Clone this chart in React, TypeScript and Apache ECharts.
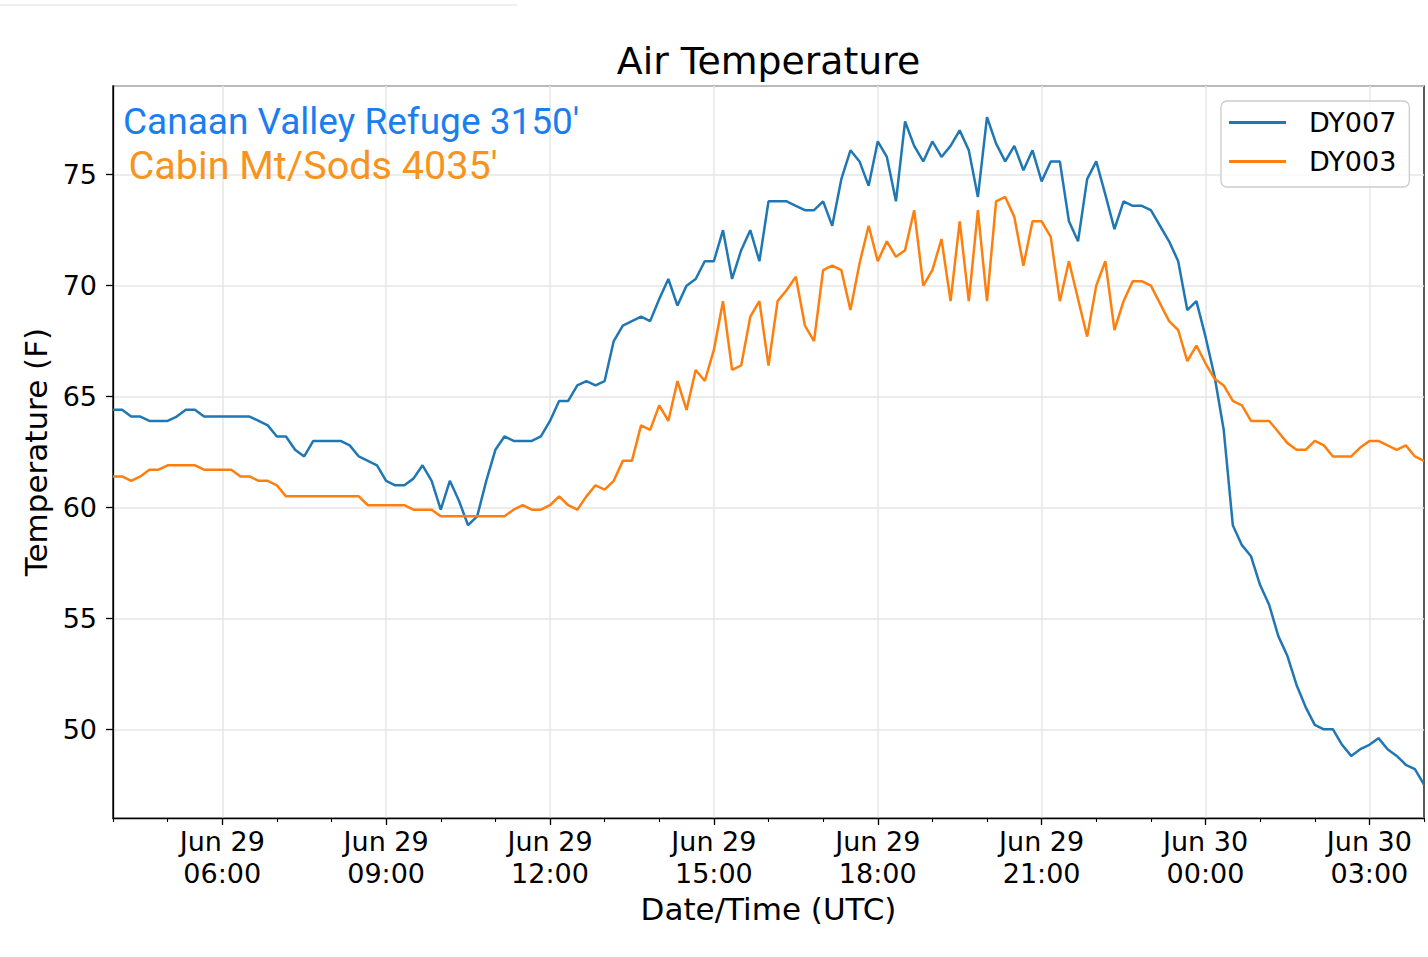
import React, { useEffect, useRef } from "react";
import * as echarts from "echarts";

// Jun 29 04:00 UTC, 10-minute readings
const startHour = 4;
const stepMinutes = 10;

const dy007: number[] = [
  64.4, 64.4, 64.1, 64.1, 63.9, 63.9, 63.9, 64.1, 64.4, 64.4,
  64.1, 64.1, 64.1, 64.1, 64.1, 64.1, 63.9, 63.7, 63.2, 63.2,
  62.6, 62.3, 63.0, 63.0, 63.0, 63.0, 62.8, 62.3, 62.1, 61.9,
  61.2, 61.0, 61.0, 61.3, 61.9, 61.2, 59.9, 61.2, 60.3, 59.2,
  59.6, 61.2, 62.6, 63.2, 63.0, 63.0, 63.0, 63.2, 63.9, 64.8,
  64.8, 65.5, 65.7, 65.5, 65.7, 67.5, 68.2, 68.4, 68.6, 68.4,
  69.4, 70.3, 69.1, 70.0, 70.3, 71.1, 71.1, 72.5, 70.3, 71.6,
  72.5, 71.1, 73.8, 73.8, 73.8, 73.6, 73.4, 73.4, 73.8, 72.7,
  74.8, 76.1, 75.6, 74.5, 76.5, 75.8, 73.8, 77.4, 76.3, 75.6,
  76.5, 75.8, 76.3, 77.0, 76.1, 74.0, 77.6, 76.4, 75.6, 76.3,
  75.2, 76.1, 74.7, 75.6, 75.6, 72.9, 72.0, 74.8, 75.6, 74.1,
  72.55, 73.8, 73.6, 73.6, 73.4, 72.7, 72.0, 71.1, 68.9, 69.3,
  67.7, 65.9, 63.5, 59.2, 58.3, 57.8, 56.5, 55.6, 54.2, 53.3,
  52.0, 51.0, 50.2, 50.0, 50.0, 49.3, 48.8, 49.1, 49.3, 49.6,
  49.1, 48.8, 48.4, 48.2, 47.5,
];

const dy003: number[] = [
  61.4, 61.4, 61.2, 61.4, 61.7, 61.7, 61.9, 61.9, 61.9, 61.9,
  61.7, 61.7, 61.7, 61.7, 61.4, 61.4, 61.2, 61.2, 61.0, 60.5,
  60.5, 60.5, 60.5, 60.5, 60.5, 60.5, 60.5, 60.5, 60.1, 60.1,
  60.1, 60.1, 60.1, 59.9, 59.9, 59.9, 59.6, 59.6, 59.6, 59.6,
  59.6, 59.6, 59.6, 59.6, 59.9, 60.1, 59.9, 59.9, 60.1, 60.5,
  60.1, 59.9, 60.5, 61.0, 60.8, 61.2, 62.1, 62.1, 63.7, 63.5,
  64.6, 63.9, 65.7, 64.4, 66.2, 65.7, 67.1, 69.3, 66.2, 66.4,
  68.6, 69.3, 66.4, 69.3, 69.8, 70.4, 68.2, 67.5, 70.7, 70.9,
  70.7, 68.9, 71.0, 72.7, 71.1, 72.0, 71.3, 71.6, 73.4, 70.0,
  70.7, 72.1, 69.3, 72.9, 69.3, 73.4, 69.3, 73.8, 74.0, 73.1,
  70.9, 72.9, 72.9, 72.2, 69.3, 71.1, 69.4, 67.7, 70.0, 71.1,
  68.0, 69.3, 70.2, 70.2, 70.0, 69.2, 68.4, 68.0, 66.6, 67.3,
  66.5, 65.8, 65.5, 64.8, 64.6, 63.9, 63.9, 63.9, 63.4, 62.9,
  62.6, 62.6, 63.0, 62.8, 62.3, 62.3, 62.3, 62.7, 63.0, 63.0,
  62.8, 62.6, 62.8, 62.3, 62.1,
];

const seriesNames = ["DY007", "DY003"];
const seriesColors = ["#1f77b4", "#ff7f0e"];
const stationLabels = ["Canaan Valley Refuge 3150'", "Cabin Mt/Sods 4035'"];
const stationColors = ["#1a7ef0", "#f7941d"];
const yMin = 46;
const yMax = 79;

const pad2 = (n: number) => (n < 10 ? "0" + n : String(n));
const timeLabels: string[] = dy007.map((_, i) => {
  const m = startHour * 60 + i * stepMinutes;
  const day = m >= 1440 ? 30 : 29;
  const hh = Math.floor((m % 1440) / 60);
  const mm = m % 60;
  return `Jun ${day}\n${pad2(hh)}:${pad2(mm)}`;
});

const isMajor = (i: number) => i % 18 === 12; // every 3 h, starting at 06:00
const isMinor = (i: number) => i % 6 === 0; // every hour

const FONT = "DejaVu Sans";

export default function App() {
  const ref = useRef<HTMLDivElement>(null);

  useEffect(() => {
    if (!ref.current) return;
    const chart = echarts.init(ref.current, undefined, { renderer: "svg" });
    const option: any = {
      animation: false,
      backgroundColor: "#ffffff",
      grid: {
        left: 113,
        top: 86,
        right: 4,
        bottom: 139,
        show: true,
        borderColor: "#000",
        borderWidth: 1.3,
        backgroundColor: "transparent",
      },
      legend: {
        data: seriesNames,
        orient: "vertical",
        left: 1221,
        top: 101,
        icon: "rect",
        itemWidth: 57,
        itemHeight: 3,
        itemGap: 12,
        padding: [8, 13, 12, 8],
        backgroundColor: "rgba(255,255,255,0.8)",
        borderColor: "#cccccc",
        borderWidth: 1.3,
        borderRadius: 6,
        formatter: "{n|{name}}",
        textStyle: {
          fontSize: 27,
          fontFamily: FONT,
          color: "#000",
          rich: {
            n: {
              fontSize: 27,
              fontFamily: FONT,
              color: "#000",
              lineHeight: 27,
              padding: [0, 0, 0, 18],
            },
          },
        },
      },
      xAxis: [
        {
          type: "category",
          data: timeLabels,
          boundaryGap: false,
          position: "bottom",
          axisLine: { show: true, lineStyle: { color: "#000", width: 1.3 } },
          axisTick: {
            show: true,
            interval: (i: number) => isMajor(i),
            length: 7,
            lineStyle: { color: "#000", width: 1.3 },
          },
          axisLabel: {
            interval: (i: number) => isMajor(i),
            fontSize: 27,
            fontFamily: FONT,
            color: "#000",
            lineHeight: 32,
            margin: 7,
          },
          splitLine: {
            show: true,
            interval: (i: number) => isMajor(i),
            lineStyle: { color: "#e6e6e6", width: 1.5 },
          },
          name: "Date/Time (UTC)",
          nameLocation: "middle",
          nameGap: 69,
          nameTextStyle: { fontSize: 31, fontFamily: FONT, color: "#000" },
        },
        {
          type: "category",
          data: timeLabels,
          boundaryGap: false,
          position: "bottom",
          axisLine: { show: false },
          axisTick: {
            show: true,
            interval: (i: number) => isMinor(i),
            length: 4,
            lineStyle: { color: "#000", width: 1.1 },
          },
          axisLabel: { show: false },
          splitLine: { show: false },
        },
      ],
      yAxis: {
        type: "value",
        min: yMin,
        max: yMax,
        splitNumber: 6,
        axisLine: { show: true, lineStyle: { color: "#000", width: 1.3 } },
        axisTick: { show: true, length: 7, lineStyle: { color: "#000", width: 1.3 } },
        axisLabel: {
          showMinLabel: false,
          showMaxLabel: false,
          formatter: (v: number) => (v % 5 === 0 ? String(v) : ""),
          fontSize: 27,
          fontFamily: FONT,
          color: "#000",
          margin: 16,
        },
        splitLine: { show: true, lineStyle: { color: "#e6e6e6", width: 1.5 } },
        name: "Temperature (F)",
        nameLocation: "middle",
        nameGap: 57,
        nameTextStyle: { fontSize: 31, fontFamily: FONT, color: "#000" },
      },
      series: [
        {
          name: seriesNames[0],
          type: "line",
          data: dy007,
          xAxisIndex: 0,
          symbol: "none",
          showSymbol: false,
          color: seriesColors[0],
          lineStyle: { color: seriesColors[0], width: 2.5 },
        },
        {
          name: seriesNames[1],
          type: "line",
          data: dy003,
          xAxisIndex: 0,
          symbol: "none",
          showSymbol: false,
          color: seriesColors[1],
          lineStyle: { color: seriesColors[1], width: 2.5 },
        },
      ],
      graphic: [
        {
          type: "line",
          shape: { x1: 0, y1: 5, x2: 517, y2: 5 },
          style: { stroke: "#efefef", lineWidth: 2 },
          silent: true,
        },
        {
          type: "text",
          x: 768.5,
          y: 60.9,
          style: {
            text: "Air Temperature",
            fontSize: 37.8,
            fontFamily: FONT,
            fill: "#000",
            align: "center",
            verticalAlign: "middle",
          },
        },
        {
          type: "text",
          x: 123,
          y: 121.4,
          z: 100,
          style: {
            text: stationLabels[0],
            fontSize: 37,
            fontFamily: "Roboto",
            fill: stationColors[0],
            align: "left",
            verticalAlign: "middle",
          },
        },
        {
          type: "text",
          x: 128.5,
          y: 165.8,
          z: 100,
          style: {
            text: stationLabels[1],
            fontSize: 39.6,
            fontFamily: "Roboto",
            fill: stationColors[1],
            align: "left",
            verticalAlign: "middle",
          },
        },
      ],
    };
    chart.setOption(option);
    return () => chart.dispose();
  }, []);

  return (
    <div
      ref={ref}
      style={{
        position: "fixed",
        left: 0,
        top: 0,
        width: 1428,
        height: 957,
        background: "#fff",
      }}
    />
  );
}
